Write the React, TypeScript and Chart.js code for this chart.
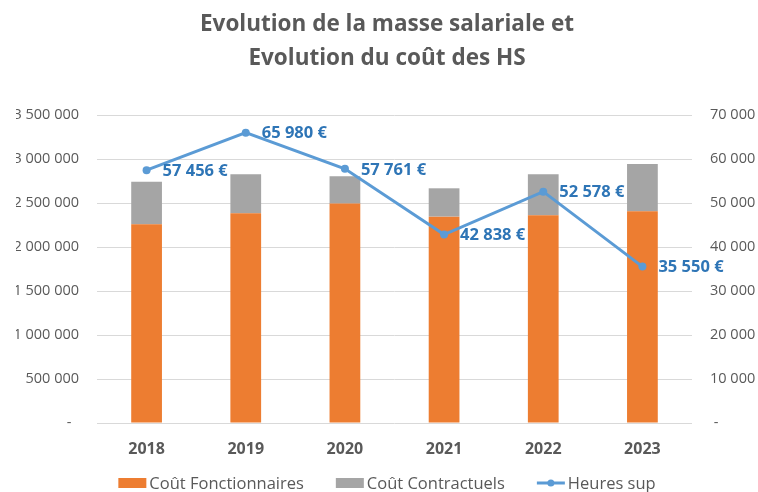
import React, { useEffect, useRef } from "react";
import { Chart, registerables } from "chart.js";

Chart.register(...registerables);

const categories = ["2018", "2019", "2020", "2021", "2022", "2023"];
const coutFonctionnaires = [2259000, 2384000, 2493000, 2345000, 2361000, 2406000];
const coutContractuels = [483000, 442000, 311000, 322000, 465000, 537000];
const heuresSup = [57456, 65980, 57761, 42838, 52578, 35550];
const titleLines = ["Evolution de la masse salariale et", "Evolution du coût des HS"];

const FONT = "'Open Sans', Lato, sans-serif";
const GREY_TEXT = "#595959";

const fmt = (n: number) => String(Math.round(n)).replace(/\B(?=(\d{3})+(?!\d))/g, " ");

const labelPlugin = {
  id: "hsLabels",
  afterDatasetsDraw(chart: any) {
    const idx = chart.data.datasets.findIndex((d: any) => d.type === "line");
    if (idx < 0) return;
    const meta = chart.getDatasetMeta(idx);
    const ctx = chart.ctx;
    ctx.save();
    ctx.font = `bold 16.5px ${FONT}`;
    ctx.fillStyle = "#2E75B6";
    ctx.textAlign = "left";
    ctx.textBaseline = "middle";
    meta.data.forEach((pt: any, i: number) => {
      const v = chart.data.datasets[idx].data[i];
      ctx.fillText(fmt(v) + " €", pt.x + 16, pt.y + 1);
    });
    ctx.restore();
  },
};

// Legend drawn below the x axis (Excel-like: small gap between key and text)
const legendPlugin = {
  id: "excelLegend",
  afterDraw(chart: any) {
    const ctx = chart.ctx;
    const boxW = 28;
    const boxH = 10;
    const gap = 3;
    const spacing = 32;
    ctx.save();
    ctx.font = `16.5px ${FONT}`;
    const items = chart.data.datasets.map((ds: any) => ({
      label: ds.label,
      color: ds.type === "line" ? ds.borderColor : ds.backgroundColor,
      isLine: ds.type === "line",
      w: ctx.measureText(ds.label).width,
    }));
    const total =
      items.reduce((s: number, it: any) => s + boxW + gap + it.w, 0) + spacing * (items.length - 1);
    const left = chart.chartArea.left - 97 + 16;
    const center = (left + chart.width) / 2;
    let x = center - total / 2;
    const y = chart.chartArea.bottom + 60;
    ctx.textBaseline = "middle";
    ctx.textAlign = "left";
    items.forEach((it: any) => {
      if (it.isLine) {
        ctx.strokeStyle = it.color;
        ctx.lineWidth = 3;
        ctx.beginPath();
        ctx.moveTo(x, y);
        ctx.lineTo(x + boxW, y);
        ctx.stroke();
        ctx.fillStyle = it.color;
        ctx.beginPath();
        ctx.arc(x + boxW / 2, y, 3.5, 0, Math.PI * 2);
        ctx.fill();
      } else {
        ctx.fillStyle = it.color;
        ctx.fillRect(x, y - boxH / 2, boxW, boxH);
      }
      ctx.fillStyle = GREY_TEXT;
      ctx.fillText(it.label, x + boxW + gap, y + 1);
      x += boxW + gap + it.w + spacing;
    });
    ctx.restore();
  },
};

export default function App() {
  const ref = useRef<HTMLCanvasElement | null>(null);
  useEffect(() => {
    if (!ref.current) return;
    const chart = new Chart(ref.current, {
      type: "bar",
      data: {
        labels: categories,
        datasets: [
          {
            type: "bar",
            label: "Coût Fonctionnaires",
            data: coutFonctionnaires,
            backgroundColor: "#ED7D31",
            yAxisID: "y",
            order: 1,
            barPercentage: 0.31,
            categoryPercentage: 1,
          } as any,
          {
            type: "bar",
            label: "Coût Contractuels",
            data: coutContractuels,
            backgroundColor: "#A5A5A5",
            yAxisID: "y",
            order: 2,
            barPercentage: 0.31,
            categoryPercentage: 1,
          } as any,
          {
            type: "line",
            label: "Heures sup",
            data: heuresSup,
            borderColor: "#5B9BD5",
            backgroundColor: "#5B9BD5",
            borderWidth: 3,
            pointRadius: 4,
            pointBackgroundColor: "#5B9BD5",
            pointBorderWidth: 0,
            yAxisID: "y1",
            order: 0,
          } as any,
        ],
      },
      options: {
        animation: false,
        responsive: false,
        maintainAspectRatio: false,
        layout: { padding: { left: 16, right: 0, top: 0, bottom: 0 } },
        scales: {
          x: {
            stacked: true,
            grid: { display: false },
            border: { display: false },
            ticks: {
              color: GREY_TEXT,
              font: { family: FONT, size: 16, weight: "bold" },
              padding: 9,
            },
            afterFit(s: any) {
              s.height = 69;
            },
          },
          y: {
            stacked: true,
            position: "left",
            min: 0,
            max: 3500000,
            grid: { color: "#D9D9D9", lineWidth: 1, drawTicks: false },
            border: { display: false },
            ticks: {
              stepSize: 500000,
              color: GREY_TEXT,
              font: { family: FONT, size: 14.5 },
              padding: 18,
              callback: (v: any) => (Number(v) === 0 ? "-  " : fmt(Number(v))),
            },
            afterFit(s: any) {
              s.width = 81;
            },
          },
          y1: {
            position: "right",
            min: 0,
            max: 70000,
            grid: { display: false, drawTicks: false },
            border: { display: false },
            ticks: {
              stepSize: 10000,
              color: GREY_TEXT,
              font: { family: FONT, size: 14.5 },
              padding: 18,
              callback: (v: any) => (Number(v) === 0 ? " -" : fmt(Number(v))),
            },
            afterFit(s: any) {
              s.width = 66;
            },
          },
        },
        plugins: {
          title: {
            display: true,
            text: titleLines,
            color: GREY_TEXT,
            font: { family: FONT, size: 22.5, weight: "bold", lineHeight: 34 / 22.5 },
            padding: { top: 8, bottom: 39 },
          },
          legend: { display: false },
          tooltip: { enabled: false },
        },
      },
      plugins: [labelPlugin, legendPlugin],
    });
    return () => chart.destroy();
  }, []);
  return (
    <div style={{ position: "absolute", left: 0, top: 0, width: 758, height: 492, background: "#fff" }}>
      <canvas ref={ref} width={758} height={492} style={{ display: "block" }} />
    </div>
  );
}
